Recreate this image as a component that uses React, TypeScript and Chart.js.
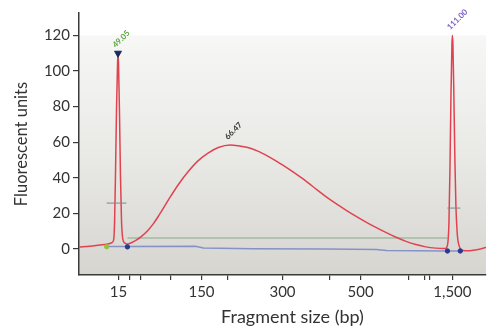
import React, { useEffect, useRef } from 'react';
import { Chart, registerables } from 'chart.js';

Chart.register(...registerables);

// Ladder (bp) and their migration times (s)
const ladderSizes = [15, 25, 50, 100, 150, 200, 300, 400, 500, 700, 850, 1000, 1500];
const ladderTimes = [46.8, 48.67, 50.53, 55.8, 61.07, 65.49, 75.0, 83.16, 88.42, 96.75, 99.47, 100.31, 104.22];
const labeledSizes = [15, 150, 300, 500, 1500];
const yTicks = [0, 20, 40, 60, 80, 100, 120];

// Electropherogram trace
const traceTime = [
  40.0, 41.87, 43.57, 44.93, 45.61, 45.95, 46.12, 46.29, 46.46, 46.63, 46.71, 46.8, 46.97, 47.14, 47.31, 47.48,
  47.82, 48.33, 49.0, 49.85, 50.7, 51.72, 52.74, 53.76, 55.46, 57.16, 58.86, 60.56, 62.26, 63.96, 66.0, 67.35,
  69.05, 70.75, 72.45, 74.15, 75.85, 77.55, 79.25, 80.95, 82.64, 84.34, 86.04, 87.74, 89.44, 91.14, 92.84, 94.54,
  96.24, 97.94, 99.63, 101.33, 103.03, 103.37, 103.63, 103.8, 103.97, 104.14, 104.22, 104.31, 104.48, 104.65,
  104.82, 105.07, 105.41, 105.75, 106.43, 108.13, 110.0,
];
const traceFU = [
  1.2, 1.6, 2.2, 2.8, 3.5, 5, 15, 45, 80, 104, 110, 104, 75, 40, 16, 7,
  3.5, 2.8, 3.5, 5, 7, 10, 14, 19, 28, 36.5, 43.8, 49.8, 54, 57, 58.4, 58,
  57, 55, 52.2, 49, 45.4, 41.6, 37.6, 33.2, 29.0, 25.2, 21.6, 18.2, 15.0, 12.0, 9.2, 6.6,
  4.3, 2.5, 1.2, 0.5, 0.3, 2, 15, 45, 85, 115, 120, 115, 85, 50,
  25, 8, 1.5, -0.5, -1, -0.5, 0.8,
];

// Baseline (blue)
const baselineTime = [44.76, 48.33, 60.05, 61.41, 69.9, 82.64, 91.14, 92.84, 103.37, 105.58];
const baselineFU = [1.4, 1.4, 1.5, 0.6, 0.2, 0.0, -0.3, -0.8, -1.1, -1.1];

// Smear region threshold (green)
const regionTime = [48.33, 103.37];
const regionFU = [6.2, 6.2];

// Half-height markers (gray)
const lowerHalfTime = [44.76, 48.16];
const lowerHalfFU = [25.8, 25.8];
const upperHalfTime = [103.37, 105.58];
const upperHalfFU = [23, 23];

// Peak boundary points
const startPointTime = [44.76];
const startPointFU = [1.3];
const endPointsTime = [48.33, 103.37, 105.58];
const endPointsFU = [1.2, -1.1, -1.1];
const peakMarkTime = [46.71];
const peakMarkFU = [110];

// Peak labels
const peakLabelText = ['49.05', '66.47', '111.00'];
const peakLabelTime = [46.71, 66.0, 104.22];
const peakLabelFU = [110, 58.4, 120];
const peakLabelColor = ['#5aa63a', '#333333', '#7b5fc0'];

const xTitle = 'Fragment size (bp)';
const yTitle = 'Fluorescent units';

const toXY = (xs: number[], ys: number[]) => xs.map((x, i) => ({ x, y: ys[i] }));

const FONT = 'Lato, "DejaVu Sans", sans-serif';

const bgPlugin = {
  id: 'bgGradient',
  beforeDraw(chart: any) {
    const { ctx, chartArea, scales } = chart;
    const top = scales.y.getPixelForValue(120);
    const g = ctx.createLinearGradient(0, top, 0, chartArea.bottom);
    g.addColorStop(0, '#f7f7f6');
    g.addColorStop(0.5, '#e9e9e6');
    g.addColorStop(1, '#d6d5d0');
    ctx.save();
    ctx.fillStyle = g;
    ctx.fillRect(chartArea.left, top, chartArea.right - chartArea.left, chartArea.bottom - top);
    ctx.restore();
  },
};

const labelPlugin = {
  id: 'peakLabels',
  afterDatasetsDraw(chart: any) {
    const { ctx, scales } = chart;
    ctx.save();
    ctx.font = `bold 8px ${FONT}`;
    ctx.textAlign = 'left';
    ctx.textBaseline = 'middle';
    peakLabelText.forEach((t, i) => {
      const px = scales.x.getPixelForValue(peakLabelTime[i]);
      const py = scales.y.getPixelForValue(peakLabelFU[i]);
      ctx.save();
      ctx.translate(px - 4, py - 7);
      ctx.rotate(-Math.PI / 4);
      ctx.fillStyle = peakLabelColor[i];
      ctx.fillText(t, 0, 0);
      ctx.restore();
    });
    ctx.restore();
  },
};

const titlePlugin = {
  id: 'xTitle',
  afterDraw(chart: any) {
    const { ctx, chartArea } = chart;
    ctx.save();
    ctx.font = `18px ${FONT}`;
    ctx.fillStyle = '#333';
    ctx.textAlign = 'center';
    ctx.textBaseline = 'middle';
    ctx.fillText(xTitle, (chartArea.left + chartArea.right) / 2 + 10, chart.height - 10);
    ctx.restore();
  },
};

export default function App() {
  const ref = useRef<HTMLCanvasElement>(null);

  useEffect(() => {
    if (!ref.current) return;
    const chart = new Chart(ref.current, {
      type: 'line',
      data: {
        datasets: [
          {
            data: toXY(peakMarkTime, peakMarkFU),
            showLine: false,
            pointStyle: 'triangle',
            rotation: 180,
            pointRadius: 4,
            backgroundColor: '#1b2a5e',
            borderColor: '#1b2a5e',
            order: 0,
          },
          {
            data: toXY(startPointTime, startPointFU),
            showLine: false,
            pointRadius: 2.2,
            backgroundColor: '#8cc63f',
            borderColor: '#8cc63f',
            order: 0,
          },
          {
            data: toXY(endPointsTime, endPointsFU),
            showLine: false,
            pointRadius: 2.2,
            backgroundColor: '#2b3990',
            borderColor: '#2b3990',
            order: 0,
          },
          {
            data: toXY(lowerHalfTime, lowerHalfFU),
            borderColor: '#858585',
            borderWidth: 1,
            pointRadius: 0,
            order: 0,
          },
          {
            data: toXY(upperHalfTime, upperHalfFU),
            borderColor: '#858585',
            borderWidth: 1,
            pointRadius: 0,
            order: 0,
          },
          {
            data: toXY(traceTime, traceFU),
            borderColor: '#e0434f',
            borderWidth: 1.5,
            pointRadius: 0,
            cubicInterpolationMode: 'monotone',
            order: 1,
          },
          {
            data: toXY(regionTime, regionFU),
            borderColor: '#a3bba3',
            borderWidth: 1.5,
            pointRadius: 0,
            order: 2,
          },
          {
            data: toXY(baselineTime, baselineFU),
            borderColor: '#8592c8',
            borderWidth: 1.5,
            pointRadius: 0,
            order: 2,
          },
        ],
      },
      options: {
        animation: false,
        responsive: false,
        events: [],
        layout: { padding: { top: 13, right: 0, left: 0, bottom: 0 } },
        plugins: { legend: { display: false }, tooltip: { enabled: false } },
        scales: {
          x: {
            type: 'linear',
            min: 40,
            max: 110,
            afterFit: (s: any) => {
              s.height = 52;
            },
            afterBuildTicks: (s: any) => {
              s.ticks = ladderTimes.map((v) => ({ value: v }));
            },
            border: { display: true, color: '#3a3a3a', width: 1.5 },
            grid: { drawOnChartArea: false, drawTicks: true, tickLength: 5, color: '#3a3a3a', lineWidth: 1.2 },
            ticks: {
              autoSkip: false,
              maxRotation: 0,
              padding: 3,
              color: '#333',
              font: { family: FONT, size: 15 },
              callback: (_v: any, i: number) =>
                labeledSizes.includes(ladderSizes[i]) ? ladderSizes[i].toLocaleString('en-US') : '',
            },
            title: { display: false },
          },
          y: {
            type: 'linear',
            min: -14.6,
            max: 132.6,
            afterFit: (s: any) => {
              s.width = 79;
            },
            afterBuildTicks: (s: any) => {
              s.ticks = yTicks.map((v) => ({ value: v }));
            },
            border: { display: true, color: '#3a3a3a', width: 1.5 },
            grid: { drawOnChartArea: false, drawTicks: true, tickLength: 6, color: '#3a3a3a', lineWidth: 1.2 },
            ticks: {
              padding: 3,
              color: '#333',
              font: { family: FONT, size: 15 },
            },
            title: {
              display: true,
              text: yTitle,
              color: '#333',
              font: { family: FONT, size: 16.5 },
              padding: { top: 12, bottom: 0 },
            },
          },
        },
      },
      plugins: [bgPlugin, labelPlugin, titlePlugin],
    } as any);
    return () => chart.destroy();
  }, []);

  return (
    <div style={{ position: 'absolute', left: 0, top: 0, width: 491, height: 327, background: '#fff' }}>
      <canvas ref={ref} width={491} height={327} style={{ display: 'block' }} />
    </div>
  );
}
